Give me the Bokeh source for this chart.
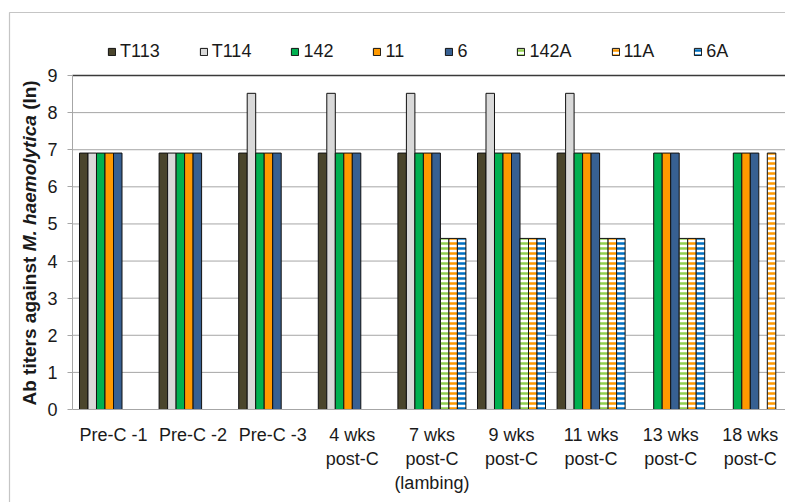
import math
from bokeh.plotting import figure
from bokeh.models import (ColumnDataSource, Range1d, FixedTicker, Legend, LegendItem,
                          Label, BoxAnnotation)
from bokeh.embed import file_html
from bokeh.resources import INLINE

# ---------------- data ----------------
categories = ["Pre-C -1", "Pre-C -2", "Pre-C -3", "4 wks\npost-C", "7 wks\npost-C\n(lambing)",
              "9 wks\npost-C", "11 wks\npost-C", "13 wks\npost-C", "18 wks\npost-C"]
series_names = ["T113", "T114", "142", "11", "6", "142A", "11A", "6A"]
N = None
T113 = [6.91, 6.91, 6.91, 6.91, 6.91, 6.91, 6.91, N, N]
T114 = [6.91, 6.91, 8.52, 8.52, 8.52, 8.52, 8.52, N, N]
s142 = [6.91, 6.91, 6.91, 6.91, 6.91, 6.91, 6.91, 6.91, 6.91]
s11 = [6.91, 6.91, 6.91, 6.91, 6.91, 6.91, 6.91, 6.91, 6.91]
s6 = [6.91, 6.91, 6.91, 6.91, 6.91, 6.91, 6.91, 6.91, 6.91]
s142A = [N, N, N, N, 4.61, 4.61, 4.61, 4.61, N]
s11A = [N, N, N, N, 4.61, 4.61, 4.61, 4.61, 6.91]
s6A = [N, N, N, N, 4.61, 4.61, 4.61, 4.61, N]
y_ticks = [0, 1, 2, 3, 4, 5, 6, 7, 8, 9]

series_values = [T113, T114, s142, s11, s6, s142A, s11A, s6A]
colors = ["#4a452c", "#d9d9d9", "#00b050", "#ff9900", "#376092", "#92d050", "#ff9900", "#0070c0"]
hatched = [False, False, False, False, False, True, True, True]

FONT = "Liberation Sans"
TXT = "#1a1a1a"
GRID = "#a6a6a6"

W, H = 785, 502
# plot-area limits (data units)
X_LEFT, X_RIGHT = -0.515, 8.4422
Y_MIN, Y_MAX = 0, 9

p = figure(width=W, height=H, output_backend="svg", toolbar_location=None,
           x_range=Range1d(-1.4196, X_RIGHT), y_range=Range1d(-2.506, 11.021),
           min_border=0)
p.outline_line_color = None
p.background_fill_color = "white"
p.border_fill_color = "white"
p.xgrid.grid_line_color = None
p.ygrid.grid_line_color = None

# horizontal gridlines restricted to the plot area
gy = [t for t in y_ticks if Y_MIN < t < Y_MAX]
p.segment(x0=[X_LEFT] * len(gy), x1=[X_RIGHT] * len(gy), y0=gy, y1=gy,
          line_color=GRID, line_width=1, level="underlay")
p.segment(x0=[X_LEFT], x1=[X_RIGHT], y0=[Y_MAX], y1=[Y_MAX],
          line_color="#3a3a3a", line_width=1.5, level="underlay")

bar_w = 0.1068
items = []
for j, (name, vals, col, hat) in enumerate(zip(series_names, series_values, colors, hatched)):
    xs, tops = [], []
    for i, v in enumerate(vals):
        if v is not None:
            xs.append(i + (j - 3.5) * bar_w)
            tops.append(v)
    src = ColumnDataSource(dict(x=xs, top=tops))
    if hat:
        r = p.vbar(x="x", top="top", bottom=0, width=bar_w, source=src,
                   fill_color="white", line_color="#111111", line_width=1,
                   hatch_pattern="horizontal_line", hatch_color=col,
                   hatch_scale=5, hatch_weight=2.5)
    else:
        r = p.vbar(x="x", top="top", bottom=0, width=bar_w, source=src,
                   fill_color=col, line_color="#111111", line_width=1)
    items.append(LegendItem(label=name, renderers=[r]))

# axes placed inside the frame
p.yaxis.fixed_location = X_LEFT
p.yaxis.bounds = (Y_MIN, Y_MAX)
p.yaxis.ticker = FixedTicker(ticks=y_ticks)
p.yaxis.axis_line_color = GRID
p.yaxis.major_tick_line_color = GRID
p.yaxis.major_tick_out = 5
p.yaxis.major_tick_in = 0
p.yaxis.minor_tick_line_color = None
p.yaxis.major_label_text_font = FONT
p.yaxis.major_label_text_font_size = "18px"
p.yaxis.major_label_text_color = TXT
p.yaxis.major_label_standoff = 10

p.xaxis.fixed_location = Y_MIN
p.xaxis.bounds = (X_LEFT, X_RIGHT)
p.xaxis.ticker = FixedTicker(ticks=list(range(len(categories))))
p.xaxis.major_label_overrides = {i: c for i, c in enumerate(categories)}
p.xaxis.axis_line_color = GRID
p.xaxis.major_tick_line_color = None
p.xaxis.minor_tick_line_color = None
p.xaxis.major_label_text_font = FONT
p.xaxis.major_label_text_font_size = "18px"
p.xaxis.major_label_text_color = TXT
p.xaxis.major_label_standoff = 10

# y-axis title built from three pieces (mixed italic)
fs = 19
parts = [("Ab titers against", "bold", 0.0),
         ("M. haemolytica", "bold italic", 8113 * fs / 1000.0),
         ("(ln)", "bold", (8113 + 7169 + 278) * fs / 1000.0)]
y0 = 97
for text, style, off in parts:
    p.add_layout(Label(x=29, y=y0 + off, x_units="screen", y_units="screen",
                       text=text, angle=math.pi / 2, text_align="left",
                       text_baseline="middle", text_font=FONT, text_font_style=style,
                       text_font_size=f"{fs}px", text_color=TXT))

# legend
legend = Legend(items=items, orientation="horizontal", location=(107, 440),
                glyph_width=9, glyph_height=9, label_standoff=4, spacing=39,
                padding=0, margin=0, border_line_color=None, background_fill_alpha=0,
                label_text_font=FONT, label_text_font_size="18px", label_text_color=TXT)
p.add_layout(legend, "center")

# outer chart border (left/top)
p.add_layout(BoxAnnotation(left=9, right=3000, top=490, bottom=-3000,
                           left_units="screen", right_units="screen",
                           top_units="screen", bottom_units="screen",
                           fill_color=None, fill_alpha=0, line_color="#404040",
                           line_width=1.2))

open("out.html", "w").write(file_html(p, INLINE))
